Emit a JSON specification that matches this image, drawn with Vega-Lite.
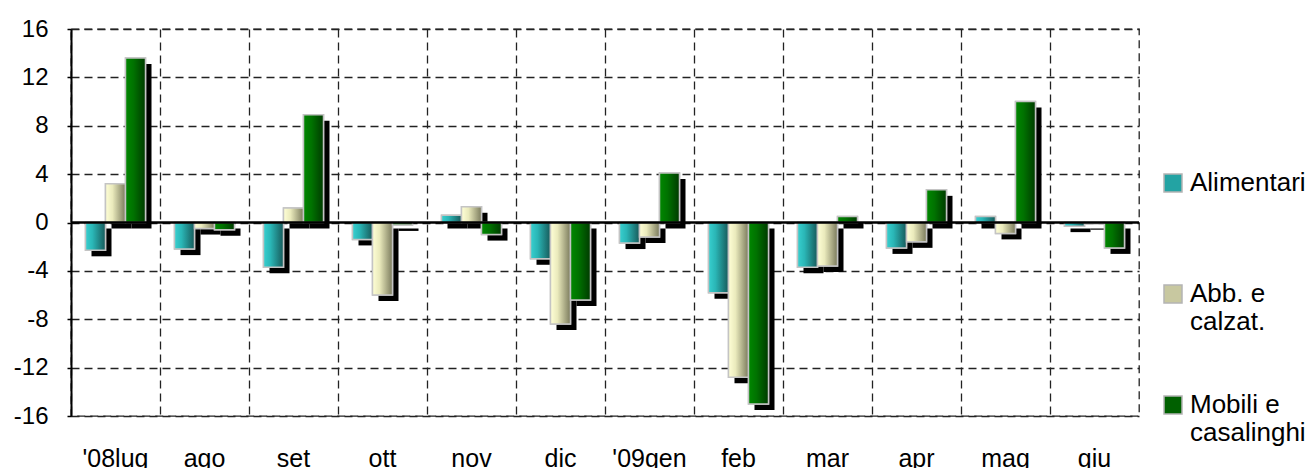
{
  "$schema": "https://vega.github.io/schema/vega-lite/v6.json",
  "width": 1068,
  "height": 387,
  "autosize": {"type": "none"},
  "padding": {"left": 71, "top": 29, "right": 172, "bottom": 52},
  "background": "white",
  "config": {
    "font": "Liberation Sans",
    "view": {"stroke": "#222222", "strokeDash": [8, 5], "strokeWidth": 1.3},
    "style": {"guide-label": {"lineHeight": 28}}
  },
  "data": {
    "values": [
      {"mese": "'08lug", "serie": "Alimentari", "valore": -2.3},
      {"mese": "'08lug", "serie": "Abb. e calzat.", "valore": 3.2},
      {"mese": "'08lug", "serie": "Mobili e casalinghi", "valore": 13.6},
      {"mese": "ago", "serie": "Alimentari", "valore": -2.2},
      {"mese": "ago", "serie": "Abb. e calzat.", "valore": -0.5},
      {"mese": "ago", "serie": "Mobili e casalinghi", "valore": -0.6},
      {"mese": "set", "serie": "Alimentari", "valore": -3.7},
      {"mese": "set", "serie": "Abb. e calzat.", "valore": 1.2},
      {"mese": "set", "serie": "Mobili e casalinghi", "valore": 8.9},
      {"mese": "ott", "serie": "Alimentari", "valore": -1.4},
      {"mese": "ott", "serie": "Abb. e calzat.", "valore": -6.0},
      {"mese": "ott", "serie": "Mobili e casalinghi", "valore": -0.2},
      {"mese": "nov", "serie": "Alimentari", "valore": 0.6},
      {"mese": "nov", "serie": "Abb. e calzat.", "valore": 1.3},
      {"mese": "nov", "serie": "Mobili e casalinghi", "valore": -1.0},
      {"mese": "dic", "serie": "Alimentari", "valore": -3.0},
      {"mese": "dic", "serie": "Abb. e calzat.", "valore": -8.4},
      {"mese": "dic", "serie": "Mobili e casalinghi", "valore": -6.4},
      {"mese": "'09gen", "serie": "Alimentari", "valore": -1.7},
      {"mese": "'09gen", "serie": "Abb. e calzat.", "valore": -1.2},
      {"mese": "'09gen", "serie": "Mobili e casalinghi", "valore": 4.1},
      {"mese": "feb", "serie": "Alimentari", "valore": -5.8},
      {"mese": "feb", "serie": "Abb. e calzat.", "valore": -12.8},
      {"mese": "feb", "serie": "Mobili e casalinghi", "valore": -15.0},
      {"mese": "mar", "serie": "Alimentari", "valore": -3.7},
      {"mese": "mar", "serie": "Abb. e calzat.", "valore": -3.6},
      {"mese": "mar", "serie": "Mobili e casalinghi", "valore": 0.5},
      {"mese": "apr", "serie": "Alimentari", "valore": -2.1},
      {"mese": "apr", "serie": "Abb. e calzat.", "valore": -1.6},
      {"mese": "apr", "serie": "Mobili e casalinghi", "valore": 2.7},
      {"mese": "mag", "serie": "Alimentari", "valore": 0.5},
      {"mese": "mag", "serie": "Abb. e calzat.", "valore": -0.9},
      {"mese": "mag", "serie": "Mobili e casalinghi", "valore": 10.0},
      {"mese": "giu", "serie": "Alimentari", "valore": -0.3},
      {"mese": "giu", "serie": "Abb. e calzat.", "valore": -0.1},
      {"mese": "giu", "serie": "Mobili e casalinghi", "valore": -2.1}
    ]
  },
  "layer": [
    {
      "mark": {"type": "bar", "fill": "black", "yOffset": 6, "y2Offset": 2},
      "encoding": {
        "x": {
          "field": "mese", "type": "nominal",
          "sort": ["'08lug", "ago", "set", "ott", "nov", "dic", "'09gen", "feb", "mar", "apr", "mag", "giu"],
          "scale": {"paddingInner": 0, "paddingOuter": 0},
          "axis": {"title": null, "domain": false, "ticks": false, "tickSize": 0, "grid": true, "bandPosition": 0,
                   "gridDash": [8, 5], "gridColor": "#222222", "gridWidth": 1.3,
                   "labelFontSize": 25, "labelPadding": 30, "labelBaseline": "top", "labelColor": "black",
                   "labelAngle": 0, "labelFlush": false, "labelOverlap": false}
        },
        "xOffset": {
          "field": "serie", "type": "nominal",
          "sort": ["Alimentari", "Abb. e calzat.", "Mobili e casalinghi"],
          "scale": {"range": [6, 95], "paddingInner": 0, "paddingOuter": 0.725}
        },
        "y": {
          "field": "valore", "type": "quantitative",
          "scale": {"domain": [-16, 16], "nice": false, "zero": false},
          "axis": {"title": null, "values": [-16, -12, -8, -4, 0, 4, 8, 12, 16],
                   "labelExpr": "'' + datum.value",
                   "domain": true, "domainColor": "black", "domainWidth": 2,
                   "ticks": true, "tickColor": "black", "tickSize": 4, "tickWidth": 1.5,
                   "grid": true, "gridDash": [8, 5], "gridColor": "#222222", "gridWidth": 1.3,
                   "labelFontSize": 24, "labelPadding": 19, "labelColor": "black"}
        }
      }
    },
    {
      "mark": {"type": "bar", "stroke": "#c4c4c4", "strokeWidth": 1.5},
      "encoding": {
        "x": {
          "field": "mese", "type": "nominal",
          "sort": ["'08lug", "ago", "set", "ott", "nov", "dic", "'09gen", "feb", "mar", "apr", "mag", "giu"]
        },
        "xOffset": {
          "field": "serie", "type": "nominal",
          "sort": ["Alimentari", "Abb. e calzat.", "Mobili e casalinghi"],
          "scale": {"paddingInner": 0, "paddingOuter": 0.725}
        },
        "y": {"field": "valore", "type": "quantitative"},
        "fill": {
          "field": "serie", "type": "nominal",
          "scale": {
            "domain": ["Alimentari", "Abb. e calzat.", "Mobili e casalinghi"],
            "range": ["#23a3a3", "#c8c8a0", "#006000"]
          },
          "legend": {
            "title": null, "orient": "none", "legendX": 1089, "legendY": 141,
            "symbolType": "square", "symbolSize": 324, "symbolStrokeColor": "#b4b4b4", "symbolStrokeWidth": 1.5,
            "labelFontSize": 26, "labelColor": "black", "labelOffset": 4, "labelLimit": 300,
            "labelBaseline": "middle", "rowPadding": 57, "padding": 0,
            "labelExpr": "datum.label == 'Alimentari' ? ['Alimentari', ''] : datum.label == 'Abb. e calzat.' ? ['Abb. e', 'calzat.'] : ['Mobili e', 'casalinghi']"
          }
        }
      }
    },
    {
      "mark": {"type": "bar", "stroke": "#c4c4c4", "strokeWidth": 1.5},
      "encoding": {
        "x": {
          "field": "mese", "type": "nominal",
          "sort": ["'08lug", "ago", "set", "ott", "nov", "dic", "'09gen", "feb", "mar", "apr", "mag", "giu"]
        },
        "xOffset": {
          "field": "serie", "type": "nominal",
          "sort": ["Alimentari", "Abb. e calzat.", "Mobili e casalinghi"],
          "scale": {"paddingInner": 0, "paddingOuter": 0.725}
        },
        "y": {"field": "valore", "type": "quantitative"},
        "fill": {
          "condition": [
            {"test": "datum.serie === 'Alimentari'",
             "value": {"gradient": "linear", "x1": 0, "y1": 0, "x2": 1, "y2": 0,
               "stops": [{"offset": 0, "color": "#38d0d0"}, {"offset": 0.35, "color": "#2ab6b6"}, {"offset": 1, "color": "#175a5a"}]}},
            {"test": "datum.serie === 'Abb. e calzat.'",
             "value": {"gradient": "linear", "x1": 0, "y1": 0, "x2": 1, "y2": 0,
               "stops": [{"offset": 0, "color": "#ffffd6"}, {"offset": 0.35, "color": "#eaeabc"}, {"offset": 1, "color": "#7a7a5c"}]}}
          ],
          "value": {"gradient": "linear", "x1": 0, "y1": 0, "x2": 1, "y2": 0,
            "stops": [{"offset": 0, "color": "#008800"}, {"offset": 0.4, "color": "#007200"}, {"offset": 1, "color": "#003a00"}]}
        }
      }
    },
    {
      "data": {"values": [{"zero": 0}]},
      "mark": {"type": "rule", "color": "black", "strokeWidth": 2.5},
      "encoding": {"y": {"field": "zero", "type": "quantitative"}}
    }
  ],
  "resolve": {"scale": {"xOffset": "independent"}}
}
